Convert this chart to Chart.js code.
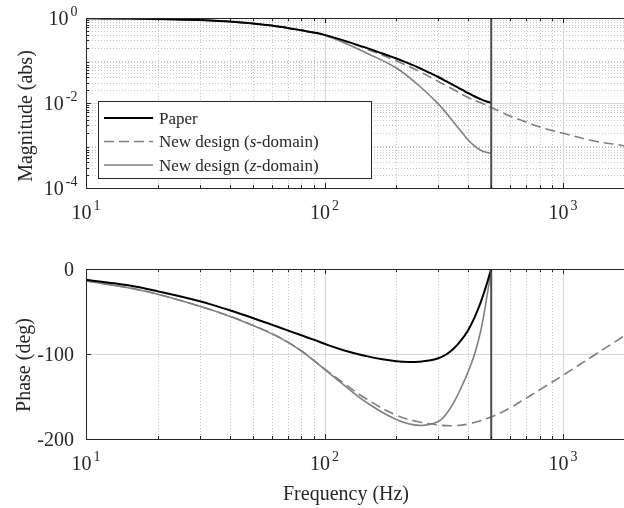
<!DOCTYPE html>
<html><head><meta charset="utf-8">
<script src="https://cdn.jsdelivr.net/npm/chart.js@4/dist/chart.umd.min.js"></script>
<style>
html,body{margin:0;padding:0;background:#fff;overflow:hidden;width:624px;height:508px;}
#c1{position:absolute;left:0;top:0;}
#c2{position:absolute;left:0;top:250px;}
</style></head><body>
<canvas id="c1" width="660" height="250"></canvas>
<canvas id="c2" width="660" height="258"></canvas>
<script>
// ---------- data ----------
const freqPaper = [10,15,20,30,40,50,60,70,80,90,100,120,150,175,200,225,250,275,300,325,350,375,400,425,450,475,500];
const magPaper  = [0.984,0.968,0.947,0.897,0.827,0.742,0.666,0.585,0.512,0.456,0.401,0.298,0.198,0.146,0.1115,0.0855,0.0666,0.0517,0.0409,0.0322,0.0258,0.0208,0.0172,0.0144,0.0124,0.0110,0.01016];
const phasePaper= [-12.6,-19.2,-26.3,-38,-48.6,-57.6,-65.5,-72.2,-78,-83.1,-88,-95.5,-102.5,-106.3,-108.5,-109.4,-109,-107.7,-105,-100.3,-93,-83.5,-72,-57.5,-40.5,-21,0];

const freqS  = [10,15,20,30,40,50,60,70,80,90,100,120,150,200,250,300,350,400,450,500,550,600,700,800,1000,1350,1800,2000];
const magS   = [0.984,0.968,0.947,0.897,0.827,0.742,0.666,0.585,0.512,0.455,0.397,0.2876,0.1865,0.0973,0.0551,0.03204,0.02022,0.01347,0.01027,0.00784,0.00615,0.00494,0.00357,0.00272,0.00194,0.00128,0.00099,0.000873];
const phaseS = [-14,-21.9,-29.7,-43.8,-55.4,-66.1,-75.8,-85.8,-96.2,-107.2,-117.5,-134,-153,-172,-180,-183.5,-184.3,-182.5,-178.5,-174,-169,-163.5,-152,-142,-125,-101.5,-79,-71];

const freqZ  = [10,15,20,30,40,50,60,70,80,90,100,120,150,200,250,300,325,350,375,400,425,450,465,480,490,500];
const magZ   = [0.984,0.968,0.947,0.897,0.827,0.742,0.666,0.585,0.512,0.455,0.394,0.2652,0.1501,0.0666,0.0251,0.00947,0.0057,0.00338,0.0021,0.001347,0.00098,0.000783,0.00072,0.000684,0.000665,0.000655];
const phaseZ = [-14.1,-22,-29.8,-43.9,-55.5,-66.3,-76,-86,-96.5,-107.5,-118,-136,-157,-177,-184,-179.5,-170,-156,-139,-121,-101,-75,-55,-32,-17,0];

const nyquistHz = 500;
const xMin = 10, xMax = 2000;
const xTickValues = [10, 100, 1000];
const xTickExps   = ['1', '2', '3'];
const magMin = 1e-4, magMax = 1;
const magTickValues = [1e-4, 1e-2, 1];
const magTickExps   = ['-4', '-2', '0'];
const phaseMin = -200, phaseMax = 0;
const phaseTickValues = [-200, -100, 0];
const phaseTickLabels = ['-200', '-100', '0'];
const seriesNames = ['Paper', 'New design (', 'New design ('];

// ---------- styling ----------
const FONT = "'Liberation Serif', 'DejaVu Serif', serif";
const AX = '#262626';
const GRAY = '#808080';

function pts(xs, ys){ return xs.map((v,i)=>({x:v, y:ys[i]})); }

const axesPlugin = {
  id: 'matlabAxes',
  beforeDatasetsDraw(chart, args, o) {
    const {ctx, chartArea: a, scales: {x, y}} = chart;
    ctx.save();
    ctx.beginPath(); ctx.rect(a.left, a.top, a.right - a.left, a.bottom - a.top); ctx.clip();
    ctx.lineWidth = 1;
    ctx.strokeStyle = '#c4c4c4';
    ctx.setLineDash([1, 2]);
    for (let d = 1; d <= 3; d++) for (let k = 2; k <= 9; k++) {
      const v = k * Math.pow(10, d); if (v > xMax) continue;
      const px = Math.round(x.getPixelForValue(v)) + 0.5;
      ctx.beginPath(); ctx.moveTo(px, a.top); ctx.lineTo(px, a.bottom); ctx.stroke();
    }
    if (o.yLog) {
      for (let d = -4; d < 0; d++) for (let k = 1; k <= 9; k++) {
        const v = k * Math.pow(10, d);
        if (o.yTicks.some(t => Math.abs(t - v) < v * 1e-6)) continue;
        const py = Math.round(y.getPixelForValue(v)) + 0.5;
        ctx.beginPath(); ctx.moveTo(a.left, py); ctx.lineTo(a.right, py); ctx.stroke();
      }
    }
    ctx.setLineDash([]);
    ctx.strokeStyle = '#d9d9d9';
    ctx.lineWidth = 1.2;
    xTickValues.forEach(v => {
      const px = Math.round(x.getPixelForValue(v)) + 0.5;
      ctx.beginPath(); ctx.moveTo(px, a.top); ctx.lineTo(px, a.bottom); ctx.stroke();
    });
    o.yTicks.forEach(v => {
      const py = Math.round(y.getPixelForValue(v)) + 0.5;
      ctx.beginPath(); ctx.moveTo(a.left, py); ctx.lineTo(a.right, py); ctx.stroke();
    });
    ctx.restore();
  },
  afterDatasetsDraw(chart, args, o) {
    const {ctx, chartArea: a, scales: {x, y}} = chart;
    ctx.save();
    ctx.strokeStyle = AX; ctx.lineWidth = 1;
    const tick = (px, len) => {
      ctx.beginPath(); ctx.moveTo(px, a.bottom); ctx.lineTo(px, a.bottom - len);
      ctx.moveTo(px, a.top); ctx.lineTo(px, a.top + len); ctx.stroke();
    };
    for (let d = 1; d <= 3; d++) for (let k = 2; k <= 9; k++) {
      const v = k * Math.pow(10, d); if (v > xMax) continue;
      tick(Math.round(x.getPixelForValue(v)) + 0.5, 3);
    }
    xTickValues.forEach(v => tick(Math.round(x.getPixelForValue(v)) + 0.5, 5));
    const ytick = (py, len) => {
      ctx.beginPath(); ctx.moveTo(a.left, py); ctx.lineTo(a.left + len, py);
      ctx.moveTo(a.right, py); ctx.lineTo(a.right - len, py); ctx.stroke();
    };
    if (o.yLog) {
      for (let d = -4; d < 0; d++) for (let k = 2; k <= 9; k++)
        ytick(Math.round(y.getPixelForValue(k * Math.pow(10, d))) + 0.5, 3);
    }
    o.yTicks.forEach(v => ytick(Math.round(y.getPixelForValue(v)) + 0.5, 5));
    ctx.strokeRect(Math.round(a.left) + 0.5, Math.round(a.top) + 0.5, a.right - a.left, Math.round(a.bottom - a.top));
    ctx.restore();

    ctx.save();
    ctx.fillStyle = AX;
    ctx.textBaseline = 'alphabetic';
    const big = '20px ' + FONT, small = '14px ' + FONT;
    xTickValues.forEach((v, i) => {
      ctx.font = big; const w1 = ctx.measureText('10').width;
      ctx.font = small; const w2 = ctx.measureText(xTickExps[i]).width;
      const tot = w1 + 2 + w2;
      const px = x.getPixelForValue(v);
      const x0 = px - tot / 2, base = a.bottom + 31;
      ctx.textAlign = 'left';
      ctx.font = big; ctx.fillText('10', x0, base);
      ctx.font = small; ctx.fillText(xTickExps[i], x0 + w1 + 2, base - 9);
    });
    if (o.yLog) {
      o.yTicks.forEach((v, i) => {
        ctx.font = big; const w1 = ctx.measureText('10').width;
        ctx.font = small; const w2 = ctx.measureText(o.yExps[i]).width;
        const right = a.left - 8.5;
        const py = y.getPixelForValue(v), base = py + 7;
        ctx.textAlign = 'left';
        ctx.font = big; ctx.fillText('10', right - w2 - 2 - w1, base);
        ctx.font = small; ctx.fillText(o.yExps[i], right - w2, base - 9);
      });
    } else {
      ctx.font = big; ctx.textAlign = 'right';
      o.yTicks.forEach((v, i) => {
        ctx.fillText(o.yLabels[i], a.left - 12, y.getPixelForValue(v) + 7);
      });
    }
    ctx.font = big; ctx.textAlign = 'center'; ctx.textBaseline = 'middle';
    ctx.save();
    ctx.translate(o.yLabelX, o.yLabelY); ctx.rotate(-Math.PI / 2);
    ctx.fillText(o.yLabel, 0, 0);
    ctx.restore();
    if (o.xLabel) ctx.fillText(o.xLabel, o.xLabelX, o.xLabelY);
    ctx.restore();
  },
  afterDraw(chart, args, o) {
    if (!o.legend) return;
    const {ctx} = chart;
    ctx.save();
    const L = 98.5, T = 101.5, R = 371.5, B = 178.5;
    ctx.fillStyle = '#fff'; ctx.fillRect(L, T, R - L, B - T);
    ctx.strokeStyle = AX; ctx.lineWidth = 1; ctx.strokeRect(L, T, R - L, B - T);
    const rows = [118, 141.5, 165];
    const styles = [
      {c: '#000', w: 2, d: []},
      {c: GRAY, w: 1.6, d: [10, 5]},
      {c: GRAY, w: 1.6, d: []}
    ];
    const italics = [null, 's', 'z'];
    rows.forEach((ry, i) => {
      ctx.strokeStyle = styles[i].c; ctx.lineWidth = styles[i].w; ctx.setLineDash(styles[i].d);
      ctx.beginPath(); ctx.moveTo(104, ry); ctx.lineTo(153, ry); ctx.stroke();
      ctx.setLineDash([]);
      ctx.fillStyle = AX; ctx.textBaseline = 'alphabetic'; ctx.textAlign = 'left';
      let tx = 159; const base = ry + 5.5;
      ctx.font = '17px ' + FONT;
      if (!italics[i]) { ctx.fillText(seriesNames[i], tx, base); return; }
      ctx.fillText(seriesNames[i], tx, base); tx += ctx.measureText(seriesNames[i]).width;
      ctx.font = 'italic 17px ' + FONT;
      ctx.fillText(italics[i], tx, base); tx += ctx.measureText(italics[i]).width;
      ctx.font = '17px ' + FONT;
      ctx.fillText('-domain)', tx, base);
    });
    ctx.restore();
  }
};

function lineDs(data, color, width, dash, order) {
  return {data, borderColor: color, borderWidth: width, borderDash: dash, pointRadius: 0,
          fill: false, tension: 0.4, order};
}

function makeChart(id, datasets, yScale, pad, pluginOpts) {
  return new Chart(document.getElementById(id), {
    type: 'line',
    data: {datasets},
    options: {
      responsive: false, animation: false, devicePixelRatio: 1, events: [],
      layout: {padding: pad},
      scales: {
        x: {type: 'logarithmic', min: xMin, max: xMax, display: false},
        y: Object.assign({display: false}, yScale)
      },
      plugins: {legend: {display: false}, tooltip: {enabled: false}, matlabAxes: pluginOpts}
    },
    plugins: [axesPlugin]
  });
}

makeChart('c1', [
  lineDs(pts([nyquistHz, nyquistHz], [magMin, magMax]), '#4d4d4d', 2, [], 0),
  lineDs(pts(freqPaper, magPaper), '#000000', 2, [], 1),
  lineDs(pts(freqS, magS), GRAY, 1.6, [10, 5], 3),
  lineDs(pts(freqZ, magZ), GRAY, 1.6, [], 2)
], {type: 'logarithmic', min: magMin, max: magMax},
 {left: 86, top: 18, right: 25.2, bottom: 62},
 {yLog: true, yTicks: magTickValues, yExps: magTickExps, yLabel: 'Magnitude (abs)',
  yLabelX: 27, yLabelY: 116, legend: true});

makeChart('c2', [
  lineDs(pts([nyquistHz, nyquistHz], [phaseMin, phaseMax]), '#4d4d4d', 2, [], 0),
  lineDs(pts(freqPaper, phasePaper), '#000000', 2, [], 1),
  lineDs(pts(freqS, phaseS), GRAY, 1.6, [10, 5], 3),
  lineDs(pts(freqZ, phaseZ), GRAY, 1.6, [], 2)
], {type: 'linear', min: phaseMin, max: phaseMax},
 {left: 86, top: 19, right: 25.2, bottom: 69},
 {yLog: false, yTicks: phaseTickValues, yLabels: phaseTickLabels, yLabel: 'Phase (deg)',
  yLabelX: 25, yLabelY: 115, xLabel: 'Frequency (Hz)', xLabelX: 346, xLabelY: 245});
</script>
</body></html>
